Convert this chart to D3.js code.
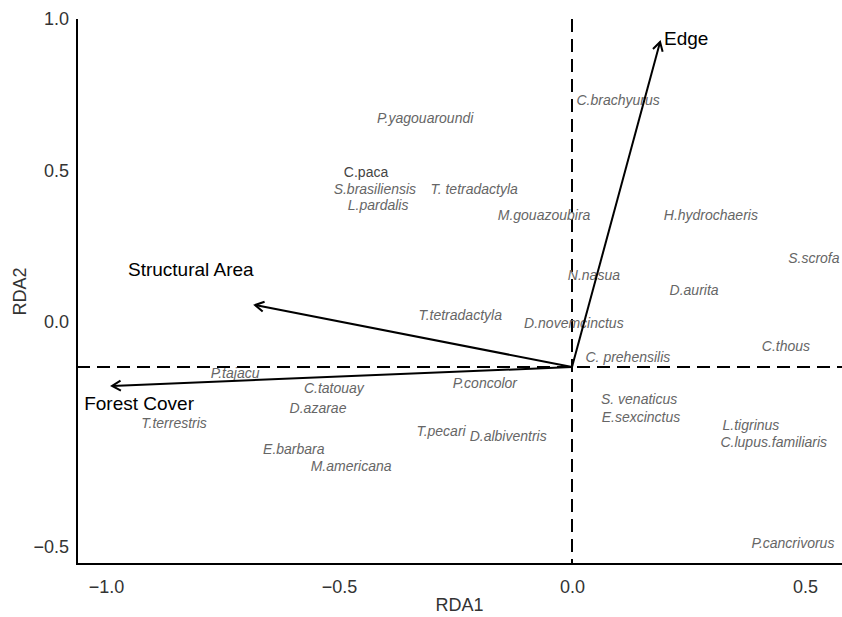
<!DOCTYPE html>
<html>
<head>
<meta charset="utf-8">
<script src="https://cdn.jsdelivr.net/npm/d3@7"></script>
<style>
html,body{margin:0;padding:0;background:#fff;}
svg{display:block;}
</style>
</head>
<body>
<script>
// ---- data ----
const species = ["P.yagouaroundi","C.brachyurus","C.paca","S.brasiliensis","T. tetradactyla","L.pardalis","M.gouazoubira","H.hydrochaeris","S.scrofa","N.nasua","D.aurita","T.tetradactyla","D.novemcinctus","C.thous","C. prehensilis","P.tajacu","C.tatouay","P.concolor","D.azarae","S. venaticus","E.sexcinctus","T.terrestris","T.pecari","D.albiventris","L.tigrinus","C.lupus.familiaris","E.barbara","M.americana","P.cancrivorus"];
const speciesRDA1 = [-0.315,0.099,-0.442,-0.423,-0.210,-0.416,-0.060,0.298,0.519,0.047,0.262,-0.240,0.004,0.459,0.120,-0.723,-0.511,-0.187,-0.545,0.144,0.148,-0.854,-0.281,-0.137,0.384,0.433,-0.597,-0.474,0.474];
const speciesRDA2 = [0.673,0.733,0.495,0.439,0.439,0.386,0.353,0.353,0.211,0.155,0.106,0.023,-0.002,-0.053,-0.078,-0.113,-0.147,-0.136,-0.191,-0.171,-0.211,-0.224,-0.242,-0.253,-0.229,-0.267,-0.282,-0.320,-0.491];
const uprightSpecies = ["C.paca"];

const variables = ["Edge","Structural Area","Forest Cover"];
const arrowRDA1 = [0.189,-0.680,-0.987];
const arrowRDA2 = [0.924,0.056,-0.142];
const labelRDA1 = [0.245,-0.818,-0.929];
const labelRDA2 = [0.937,0.175,-0.180];
const origin = [0,-0.1];

const xTicks = [-1.0,-0.5,0.0,0.5];
const yTicks = [-0.5,0.0,0.5,1.0];

// ---- layout ----
const W = 842, H = 617;
const svg = d3.select("body").append("svg").attr("width",W).attr("height",H);

const x = d3.scaleLinear().domain([-1.0,0.0]).range([106,572]);
const y = d3.scaleLinear().domain([-0.5,0.0,1.0]).range([547,322,19]);

const pLeft = 77, pRight = 842, pTop = 19, pBottom = 564;
const FONT = "Liberation Sans, Arial, sans-serif";

// reference dashed lines
svg.append("line").attr("x1",x(origin[0])).attr("x2",x(origin[0]))
  .attr("y1",pTop).attr("y2",pBottom)
  .attr("stroke","#000").attr("stroke-width",2).attr("stroke-dasharray","13,7");
svg.append("line").attr("x1",pLeft).attr("x2",pRight)
  .attr("y1",y(origin[1])).attr("y2",y(origin[1]))
  .attr("stroke","#000").attr("stroke-width",2).attr("stroke-dasharray","13,7");

// axes (no tick marks)
const fmt = d => d3.format(".1f")(d).replace("-","\u2212");
const xAxis = svg.append("g").attr("transform",`translate(0,${pBottom})`)
  .call(d3.axisBottom(x).tickValues(xTicks).tickFormat(fmt).tickSize(0).tickPadding(16));
xAxis.select(".domain").remove();
xAxis.selectAll("text").attr("font-family",FONT).attr("font-size",18).attr("fill","#333");

const yAxis = svg.append("g").attr("transform",`translate(${pLeft},0)`)
  .call(d3.axisLeft(y).tickValues(yTicks).tickFormat(fmt).tickSize(0).tickPadding(8));
yAxis.select(".domain").remove();
yAxis.selectAll("text").attr("font-family",FONT).attr("font-size",18).attr("fill","#333");

svg.append("path").attr("d",`M${pLeft},${pTop}V${pBottom}H${pRight}`)
  .attr("fill","none").attr("stroke","#000").attr("stroke-width",2);

// axis titles
svg.append("text").attr("x",(pLeft+pRight)/2).attr("y",611).attr("text-anchor","middle")
  .attr("font-family",FONT).attr("font-size",18).attr("fill","#333").text("RDA1");
svg.append("text").attr("transform",`translate(26,${(pTop+pBottom)/2}) rotate(-90)`).attr("text-anchor","middle")
  .attr("font-family",FONT).attr("font-size",18).attr("fill","#333").text("RDA2");

// species labels
svg.append("g").selectAll("text").data(species).join("text")
  .attr("x",(d,i)=>x(speciesRDA1[i]))
  .attr("y",(d,i)=>y(speciesRDA2[i]))
  .attr("dy","0.35em")
  .attr("text-anchor","middle")
  .attr("font-family",FONT)
  .attr("font-size",14)
  .attr("font-style",d=>uprightSpecies.includes(d)?"normal":"italic")
  .attr("fill",d=>uprightSpecies.includes(d)?"#444":"#666")
  .text(d=>d);

// arrows
const ox = x(origin[0]), oy = y(origin[1]);
const ag = svg.append("g");
variables.forEach((v,i)=>{
  const tx = x(arrowRDA1[i]), ty = y(arrowRDA2[i]);
  ag.append("line").attr("x1",ox).attr("y1",oy).attr("x2",tx).attr("y2",ty)
    .attr("stroke","#000").attr("stroke-width",2);
  const ang = Math.atan2(ty-oy, tx-ox);
  const L = 10, a = Math.PI/6;
  const p1 = [tx - L*Math.cos(ang - a), ty - L*Math.sin(ang - a)];
  const p2 = [tx - L*Math.cos(ang + a), ty - L*Math.sin(ang + a)];
  ag.append("path").attr("d",`M${p1[0]},${p1[1]}L${tx},${ty}L${p2[0]},${p2[1]}`)
    .attr("fill","none").attr("stroke","#000").attr("stroke-width",2);
});
svg.append("g").selectAll("text").data(variables).join("text")
  .attr("x",(d,i)=>x(labelRDA1[i]))
  .attr("y",(d,i)=>y(labelRDA2[i]))
  .attr("dy","0.35em")
  .attr("text-anchor","middle")
  .attr("font-family",FONT)
  .attr("font-size",19)
  .attr("fill","#000")
  .text(d=>d);
</script>
</body>
</html>
